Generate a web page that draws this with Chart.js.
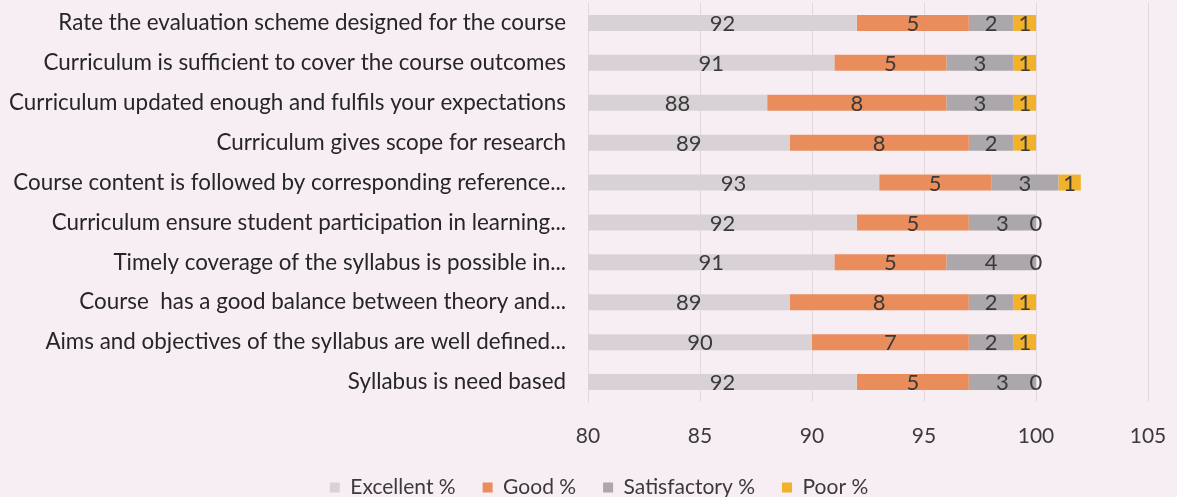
<!DOCTYPE html>
<html>
<head>
<meta charset="utf-8">
<script src="https://cdn.jsdelivr.net/npm/chart.js@4/dist/chart.umd.min.js"></script>
<style>
  html, body { margin: 0; padding: 0; background: #f7eef4; }
  #wrap { width: 1177px; height: 497px; position: relative; }
</style>
</head>
<body>
<div id="wrap"><canvas id="grafico"></canvas></div>
<script>
// preguntas (de arriba hacia abajo)
const categorias = [
  'Rate the evaluation scheme designed for the course',
  'Curriculum is sufficient to cover the course outcomes',
  'Curriculum updated enough and fulfils your expectations',
  'Curriculum gives scope for research',
  'Course content is followed by corresponding reference...',
  'Curriculum ensure student participation in learning...',
  'Timely coverage of the syllabus is possible in...',
  'Course  has a good balance between theory and...',
  'Aims and objectives of the syllabus are well defined...',
  'Syllabus is need based'
];
const excelente    = [92, 91, 88, 89, 93, 92, 91, 89, 90, 92];
const bueno        = [5, 5, 8, 8, 5, 5, 5, 8, 7, 5];
const satisfactorio = [2, 3, 3, 2, 3, 3, 4, 2, 2, 3];
const pobre        = [1, 1, 1, 1, 1, 0, 0, 1, 1, 0];
const ticksX = [80, 85, 90, 95, 100, 105];

const FUENTE = 'Lato, "Open Sans", sans-serif';

// etiquetas de valor dentro de cada segmento (centro de la parte visible)
const etiquetasPlugin = {
  id: 'etiquetas',
  afterDatasetsDraw(chart) {
    const ctx = chart.ctx;
    const area = chart.chartArea;
    ctx.save();
    ctx.font = '22px ' + FUENTE;
    ctx.fillStyle = '#3a3a3a';
    ctx.textAlign = 'center';
    ctx.textBaseline = 'middle';
    chart.data.datasets.forEach((ds, i) => {
      const meta = chart.getDatasetMeta(i);
      meta.data.forEach((bar, j) => {
        const izq = Math.max(Math.min(bar.base, bar.x), area.left);
        const der = Math.min(Math.max(bar.base, bar.x), area.right);
        ctx.fillText(String(ds.data[j]), (izq + der) / 2, bar.y + 1);
      });
    });
    ctx.restore();
  }
};

// leyenda: altura fija y centrada un poco a la derecha, como en el original
const leyendaPlugin = {
  id: 'leyendaAjuste',
  afterInit(chart) {
    const lg = chart.legend;
    if (lg && !lg._altFija) {
      const fitOrig = lg.fit;
      lg.fit = function () { fitOrig.call(this); this.height = 47; };
      lg._altFija = true;
    }
  },
  afterLayout(chart) {
    if (chart.legend) chart.legend.left = 50;
  }
};

const comun = { barPercentage: 0.8, categoryPercentage: 0.5 };

new Chart(document.getElementById('grafico'), {
  type: 'bar',
  data: {
    labels: categorias,
    datasets: [
      { label: 'Excellent %', data: excelente, backgroundColor: '#d8d2d6', ...comun },
      { label: 'Good %', data: bueno, backgroundColor: '#e98d5c', ...comun },
      { label: 'Satisfactory %', data: satisfactorio, backgroundColor: '#aba7aa', ...comun },
      { label: 'Poor %', data: pobre, backgroundColor: '#f2b12a', ...comun }
    ]
  },
  options: {
    indexAxis: 'y',
    responsive: true,
    maintainAspectRatio: false,
    animation: false,
    layout: { padding: { top: 3, right: 29, bottom: 0, left: 0 } },
    plugins: {
      legend: {
        position: 'bottom',
        labels: {
          font: { family: FUENTE, size: 21 },
          color: '#3a3a3a',
          boxWidth: 10,
          boxHeight: 10,
          padding: 27
        }
      },
      tooltip: { enabled: false }
    },
    scales: {
      x: {
        stacked: true,
        min: 80,
        max: 105,
        afterBuildTicks: axis => { axis.ticks = ticksX.map(v => ({ value: v })); },
        afterFit: axis => { axis.height = 48; axis.paddingLeft = 0; axis.paddingRight = 0; },
        ticks: { font: { family: FUENTE, size: 21 }, color: '#3a3a3a', padding: 22 },
        grid: { color: '#e2d8de', drawTicks: false },
        border: { display: false }
      },
      y: {
        stacked: true,
        afterFit: axis => { axis.width = 588; axis.paddingTop = 0; axis.paddingBottom = 0; },
        ticks: { font: { family: FUENTE, size: 22.4 }, color: '#262626', padding: 14 },
        grid: { display: false },
        border: { color: '#e2d8de' }
      }
    }
  },
  plugins: [etiquetasPlugin, leyendaPlugin]
});
</script>
</body>
</html>
